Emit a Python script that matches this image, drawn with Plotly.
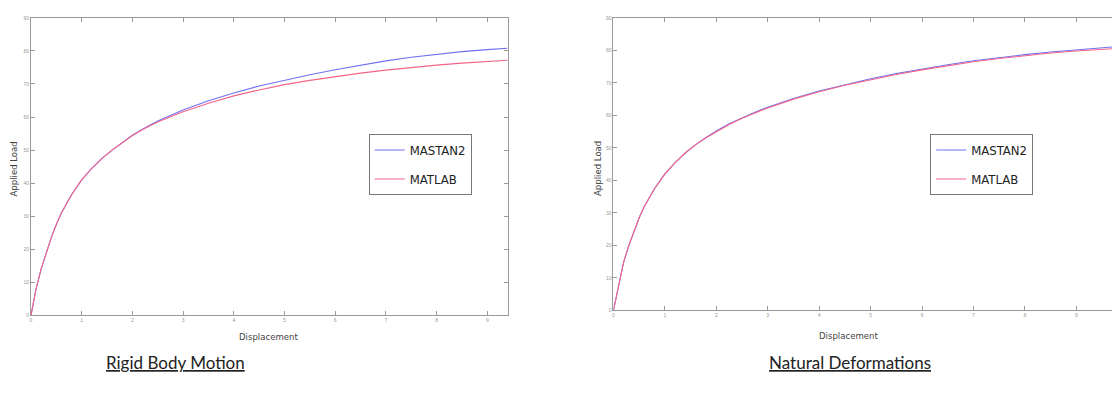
import plotly.graph_objects as go

# ---- data ----
disp = [0, 0.05, 0.1, 0.2, 0.3, 0.4, 0.5, 0.6, 0.8, 1.0, 1.2, 1.4, 1.6, 1.8, 2.0, 2.25, 2.5,
        2.75, 3.0, 3.5, 4.0, 4.5, 5.0, 5.5, 6.0, 6.5, 7.0, 7.5, 8.0, 8.5, 9.0, 9.4]
rigid_mastan = [0, 4, 8, 14, 19, 23.5, 27.5, 31, 36.5, 41, 44.5, 47.5, 50, 52.3, 54.5, 56.8, 58.8,
                60.5, 62.1, 64.9, 67.3, 69.4, 71.2, 72.8, 74.3, 75.7, 77, 78.1, 79, 79.8, 80.4, 80.8]
rigid_matlab = [0, 4, 8, 14, 19, 23.5, 27.5, 31, 36.5, 41, 44.5, 47.5, 50, 52.3, 54.4, 56.6, 58.5,
                60.1, 61.6, 64.2, 66.4, 68.2, 69.8, 71.1, 72.3, 73.3, 74.2, 75.0, 75.7, 76.3, 76.8, 77.2]

disp_r = [0, 0.05, 0.1, 0.2, 0.3, 0.4, 0.5, 0.6, 0.8, 1.0, 1.2, 1.4, 1.6, 1.8, 2.0, 2.25, 2.5,
          2.75, 3.0, 3.5, 4.0, 4.5, 5.0, 5.5, 6.0, 6.5, 7.0, 7.5, 8.0, 8.5, 9.0, 9.5, 9.8]
nat_mastan = [0, 4, 8, 15, 20, 24.5, 28.5, 32, 37.5, 42, 45.5, 48.5, 51, 53.2, 55.2, 57.4, 59.3,
              61, 62.5, 65.2, 67.5, 69.5, 71.3, 72.9, 74.3, 75.6, 76.8, 77.8, 78.7, 79.5, 80.2, 80.8, 81.2]
nat_matlab = [0, 4, 8, 15, 20, 24.5, 28.5, 32, 37.5, 42, 45.5, 48.5, 51, 53.1, 55.0, 57.2, 59.1,
              60.8, 62.3, 65.0, 67.3, 69.3, 71.0, 72.6, 74.0, 75.3, 76.5, 77.5, 78.4, 79.2, 79.8, 80.3, 80.6]

y_ticks = [0, 10, 20, 30, 40, 50, 60, 70, 80, 90]
x_ticks = [0, 1, 2, 3, 4, 5, 6, 7, 8, 9]

blue = "rgb(112,112,245)"
red = "rgb(245,100,135)"

fig = go.Figure()
fig.add_trace(go.Scatter(x=disp, y=rigid_mastan, mode="lines", name="MASTAN2", legendgroup="a",
                         line=dict(color=blue, width=1.1), xaxis="x", yaxis="y", legend="legend"))
fig.add_trace(go.Scatter(x=disp, y=rigid_matlab, mode="lines", name="MATLAB", legendgroup="b",
                         line=dict(color=red, width=1.1), xaxis="x", yaxis="y", legend="legend"))
fig.add_trace(go.Scatter(x=disp_r, y=nat_mastan, mode="lines", name="MASTAN2", legendgroup="c",
                         line=dict(color=blue, width=1.1), xaxis="x2", yaxis="y2", legend="legend2"))
fig.add_trace(go.Scatter(x=disp_r, y=nat_matlab, mode="lines", name="MATLAB", legendgroup="d",
                         line=dict(color=red, width=1.1), xaxis="x2", yaxis="y2", legend="legend2"))

axis_common = dict(showgrid=False, zeroline=False, showline=True, linecolor="#9a9a9a",
                   linewidth=1, mirror="ticks", ticks="inside", ticklen=4, tickcolor="#9a9a9a",
                   tickfont=dict(size=5, color="#999999", family="Liberation Sans"))

W, H = 1120, 396
OFF = 8  # page body margin


def px_x(p):
    return (p - OFF) / W


def px_y(p):
    return 1 - (p - OFF) / H


narrow = "Liberation Sans Narrow, DejaVu Sans Condensed, Liberation Sans"
legend_common = dict(xanchor="left", yanchor="top", bordercolor="#777777", borderwidth=1,
                     bgcolor="white", font=dict(family=narrow, size=13, color="#222"),
                     itemwidth=30, tracegroupgap=9)

fig.update_layout(
    width=W, height=H,
    margin=dict(l=0, r=0, t=0, b=0),
    paper_bgcolor="white", plot_bgcolor="white",
    xaxis=dict(domain=[px_x(30), px_x(507)], range=[0, 9.4], tickvals=x_ticks, anchor="y", **axis_common),
    yaxis=dict(domain=[px_y(317), px_y(15)], range=[0, 90], tickvals=y_ticks, anchor="x", **axis_common),
    xaxis2=dict(domain=[px_x(613), px_x(1120)], range=[0, 9.85], tickvals=x_ticks, anchor="y2", **axis_common),
    yaxis2=dict(domain=[px_y(312), px_y(15)], range=[0, 90], tickvals=y_ticks, anchor="x2", **axis_common),
    legend=dict(x=px_x(368), y=px_y(133), **legend_common),
    legend2=dict(x=px_x(930), y=px_y(133), **legend_common),
    showlegend=True,
)

label_font = dict(family=narrow, size=9.5, color="#444")
title_font = dict(family="Lato", size=17, color="#222")
annotations = [
    dict(text="Displacement", x=px_x(268), y=px_y(338), xref="paper", yref="paper",
         xanchor="center", yanchor="middle", showarrow=False, font=label_font),
    dict(text="Displacement", x=px_x(848), y=px_y(337), xref="paper", yref="paper",
         xanchor="center", yanchor="middle", showarrow=False, font=label_font),
    dict(text="Applied Load", x=px_x(13), y=px_y(168), xref="paper", yref="paper",
         xanchor="center", yanchor="middle", showarrow=False, textangle=-90, font=label_font),
    dict(text="Applied Load", x=px_x(597), y=px_y(168), xref="paper", yref="paper",
         xanchor="center", yanchor="middle", showarrow=False, textangle=-90, font=label_font),
    dict(text="<u>Rigid Body Motion</u>", x=px_x(175), y=px_y(365), xref="paper", yref="paper",
         xanchor="center", yanchor="middle", showarrow=False, font=title_font),
    dict(text="<u>Natural Deformations</u>", x=px_x(850), y=px_y(365), xref="paper", yref="paper",
         xanchor="center", yanchor="middle", showarrow=False, font=title_font),
]
fig.update_layout(annotations=annotations)

fig.write_html("out.html")
